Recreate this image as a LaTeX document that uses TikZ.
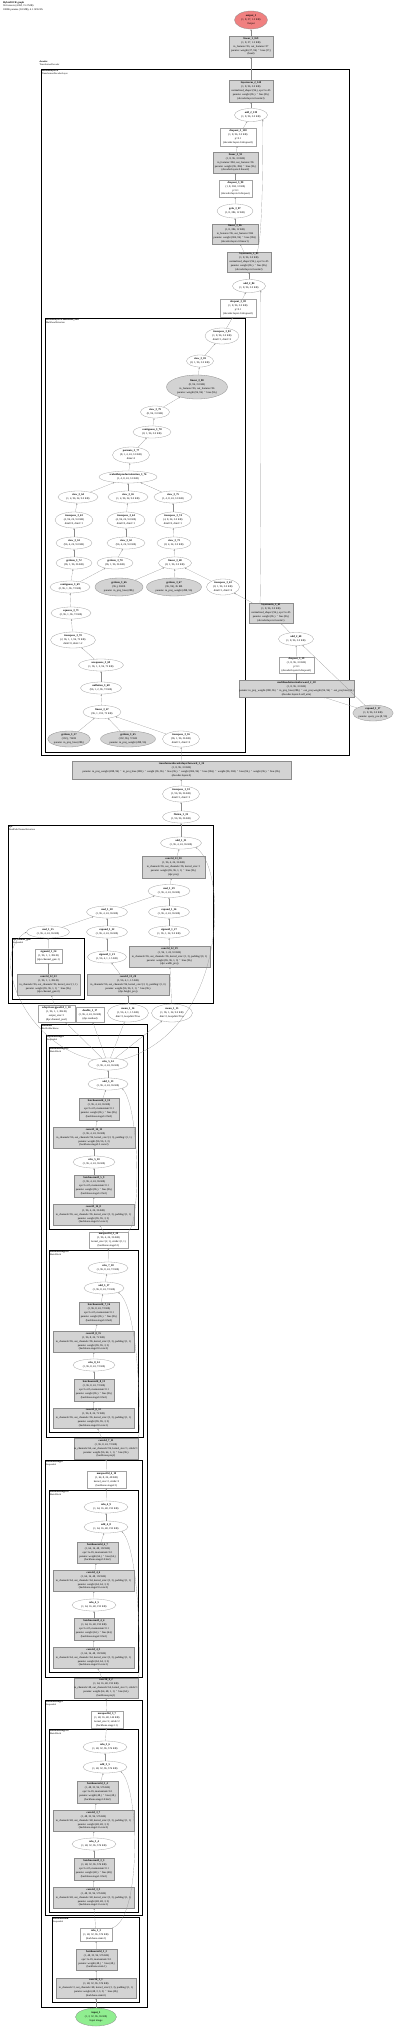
\documentclass[tikz,border=0pt]{standalone}
\usepackage{fontspec}
\setmainfont{Liberation Serif}
\usetikzlibrary{shapes.geometric,arrows.meta}
\definecolor{gfill}{HTML}{D3D3D3}
\definecolor{gline}{HTML}{8C8C8C}
\definecolor{infill}{HTML}{90EE90}
\definecolor{outfill}{HTML}{F08080}
\tikzset{
  base/.style={font=\fontsize{2.7}{3.9}\selectfont, align=center, inner sep=0.4pt, line width=0.3pt},
  gbox/.style={base, rectangle, draw=gline, fill=gfill},
  wbox/.style={base, rectangle, draw=gline!80, fill=white},
  gell/.style={base, ellipse, draw=gline, fill=gfill, inner sep=0pt},
  well/.style={base, ellipse, draw=gline!80, fill=white, inner sep=0pt},
  inell/.style={base, ellipse, draw=gline, fill=infill, inner sep=0pt},
  outell/.style={base, ellipse, draw=gline, fill=outfill, inner sep=0pt},
  edge/.style={-{Stealth[length=1.6pt,width=1.3pt]}, line width=0.16pt, draw=black!45},
  clus/.style={draw=black, line width=0.6pt},
  clab/.style={font=\fontsize{2.4}{2.9}\selectfont, align=left, anchor=north west, inner sep=0.8pt}
}
\newcommand\BX[7][gbox]{\node[#1,minimum width={#5-#3},minimum height={#6-#4}] (#2) at ({(#3+#5)/2},{(#4+#6)/2}) {#7};}
\newcommand\EL[7][well]{\node[#1,minimum width=#5,minimum height=#6] (#2) at (#3,#4) {#7};}
\newcommand\CL[7]{\draw[clus,line width=#5] (#1,#2) rectangle (#3,#4); \node[clab] at (#1,#2) {\textbf{#6}\\#7};}
\begin{document}
\begin{tikzpicture}[x=1pt,y=-1pt]
\useasboundingbox (0,0) rectangle (400,2028);
\node[clab,font=\fontsize{2.6}{3.1}\selectfont] at (2,1) {\textbf{HybridOCR graph}\\361 tensors (4.0M, 15.2 MB)\\1000K params (3.8 MB), 4.1 GFLOPs};

% ---------------- clusters ----------------
\draw[clus,line width=0.5pt,double,double distance=0.9pt] (37.5,58.5) rectangle (352.5,759.5);
\node[clab] at (38.5,59.5) {\textbf{decoder}\\TransformerDecoder};
\CL{41}{69}{349}{755}{0.7pt}{decoder.layers.0}{TransformerDecoderLayer}
\CL{45}{318}{245}{752}{0.5pt}{decoder.layers.0.multihead\_attn}{MultiheadAttention}
\CL{8}{825}{213}{1003}{0.7pt}{dpc}{DualPathChannelAttention}
\CL{12}{938}{84}{999}{0.6pt}{dpc.channel\_gate}{Sequential}
\CL{41}{1024}{147}{2007}{0.7pt}{backbone}{ResNetBackbone}
\CL{46}{1035}{143}{1437}{0.6pt}{backbone.stage3}{Sequential}
\CL{49}{1047}{138}{1229}{0.6pt}{backbone.stage3.2}{BasicBlock}
\CL{49}{1250}{138}{1432}{0.6pt}{backbone.stage3.0}{BasicBlock}
\CL{45}{1460}{142}{1677}{0.6pt}{backbone.stage2}{Sequential}
\CL{49}{1490}{138}{1672}{0.6pt}{backbone.stage2.0}{BasicBlock}
\CL{45}{1700}{142}{1915}{0.6pt}{backbone.stage1}{Sequential}
\CL{49}{1729}{138}{1912}{0.6pt}{backbone.stage1.0}{BasicBlock}
\CL{52}{1917}{139}{2002}{0.6pt}{backbone.stem}{Sequential}

% ---------------- top ----------------
\EL[outell]{out}{251}{20}{33}{18}{\textbf{output\_1}\\(1, 8, 37, 1.2 KB)\\Output}
\BX{lin1}{229}{36}{273}{57}{\textbf{linear\_1\_169}\\(1, 8, 37, 1.2 KB)\\in\_features=96, out\_features=37\\params: weight (37, 96) $\cdot$ bias (37,)\\(head)}
\BX{ln2}{229}{80}{273}{102}{\textbf{layernorm\_2\_140}\\(1, 8, 96, 3.0 KB)\\normalized\_shape=(96,), eps=1e-05\\params: weight (96,) $\cdot$ bias (96,)\\(decoder.layers.0.norm3)}
\EL{add2}{251}{115}{33}{13}{\textbf{add\_2\_139}\\(1, 8, 96, 3.0 KB)}
\BX[wbox]{do1}{220}{128}{256}{146}{\textbf{dropout\_3\_138}\\(1, 8, 96, 3.0 KB)\\p=0.1\\(decoder.layers.0.dropout3)}
\BX{lin2}{213}{152}{258}{173}{\textbf{linear\_3\_91}\\(1, 8, 96, 3.0 KB)\\in\_features=384, out\_features=96\\params: weight (96, 384) $\cdot$ bias (96,)\\(decoder.layers.0.linear2)}
\BX[wbox]{do2}{219}{180}{252}{197}{\textbf{dropout\_3\_90}\\(1, 8, 384, 12 KB)\\p=0.1\\(decoder.layers.0.dropout)}
\EL{gelu}{235}{211}{36}{14}{\textbf{gelu\_3\_87}\\(1, 8, 384, 12 KB)}
\BX{lin3}{212}{224}{258}{244}{\textbf{linear\_3\_86}\\(1, 8, 384, 12 KB)\\in\_features=96, out\_features=384\\params: weight (384, 96) $\cdot$ bias (384,)\\(decoder.layers.0.linear1)}
\BX{ln3}{227}{252}{271}{272}{\textbf{layernorm\_2\_85}\\(1, 8, 96, 3.0 KB)\\normalized\_shape=(96,), eps=1e-05\\params: weight (96,) $\cdot$ bias (96,)\\(decoder.layers.0.norm2)}
\EL{addb}{249}{286}{33}{13}{\textbf{add\_2\_84}\\(1, 8, 96, 3.0 KB)}
\BX[wbox]{do3}{220}{299}{256}{317}{\textbf{dropout\_3\_83}\\(1, 8, 96, 3.0 KB)\\p=0.1\\(decoder.layers.0.dropout2)}

% ---------------- multihead attention ----------------
\EL{tr1}{222}{336}{34}{16}{\textbf{transpose\_3\_82}\\(1, 8, 96, 3.0 KB)\\dim0=1, dim1=0}
\EL{vw1}{200}{361}{24}{12}{\textbf{view\_3\_81}\\(8, 1, 96, 3.0 KB)}
\EL[gell]{lina}{197}{387}{61}{24}{\textbf{linear\_3\_80}\\(8, 96, 3.0 KB)\\in\_features=96, out\_features=96\\params: weight (96, 96) $\cdot$ bias (96,)}
\EL{vw2}{155}{412}{29}{12}{\textbf{view\_3\_79}\\(8, 96, 3.0 KB)}
\EL{cont1}{152}{432}{38}{12}{\textbf{contiguous\_3\_78}\\(8, 1, 96, 3.0 KB)}
\EL{perm1}{131}{455}{37}{16}{\textbf{permute\_3\_77}\\(8, 1, 4, 24, 3.0 KB)\\dims=4}
\EL{sdpa}{128}{477}{58}{12}{\textbf{scaleddotproductattention\_3\_76}\\(1, 4, 8, 24, 3.0 KB)}
\EL{va}{78}{497}{40}{12}{\textbf{view\_3\_64}\\(1, 4, 96, 24, 9.0 KB)}
\EL{vb}{128}{497}{40}{12}{\textbf{view\_3\_65}\\(1, 4, 96, 24, 9.0 KB)}
\EL{vc}{173}{497}{38}{12}{\textbf{view\_3\_75}\\(1, 4, 8, 24, 3.0 KB)}
\EL{ta}{74}{520}{38}{16}{\textbf{transpose\_3\_63}\\(4, 96, 24, 9.0 KB)\\dim0=0, dim1=1}
\EL{tb}{126}{520}{38}{16}{\textbf{transpose\_3\_64}\\(4, 96, 24, 9.0 KB)\\dim0=0, dim1=1}
\EL{tc}{173}{520}{36}{16}{\textbf{transpose\_3\_74}\\(4, 8, 24, 3.0 KB)\\dim0=0, dim1=1}
\EL{vd}{74}{543}{36}{12}{\textbf{view\_3\_61}\\(96, 4, 24, 9.0 KB)}
\EL{ve}{126}{543}{38}{12}{\textbf{view\_3\_62}\\(96, 4, 24, 9.0 KB)}
\EL{vf}{174}{543}{34}{12}{\textbf{view\_3\_73}\\(8, 4, 24, 3.0 KB)}
\EL{pa}{74}{563}{36}{12}{\textbf{getitem\_3\_72}\\(96, 1, 96, 36 KB)}
\EL{pb}{115}{563}{36}{12}{\textbf{getitem\_3\_70}\\(96, 1, 96, 36 KB)}
\EL{lb}{175}{563}{33}{12}{\textbf{linear\_3\_68}\\(8, 1, 96, 3.0 KB)}
\EL{cont2}{70}{587}{40}{12}{\textbf{contiguous\_3\_69}\\(2, 96, 1, 96, 72 KB)}
\EL[gell]{sp1}{119}{587}{48}{18}{\textbf{getitem\_3\_66}\\(96,), 384 B\\params: in\_proj\_bias (288,)}
\EL[gell]{sp2}{174}{587}{55}{18}{\textbf{getitem\_3\_67}\\(96, 96), 36 KB\\params: in\_proj\_weight (288, 96)}
\EL{tr2}{223}{587}{33}{16}{\textbf{transpose\_3\_62}\\(8, 1, 96, 3.0 KB)\\dim0=1, dim1=0}
\BX{ln4}{249}{603}{293}{623}{\textbf{layernorm\_2\_61}\\(1, 8, 96, 3.0 KB)\\normalized\_shape=(96,), eps=1e-05\\params: weight (96,) $\cdot$ bias (96,)\\(decoder.layers.0.norm1)}
\EL{addc}{296}{639}{35}{13}{\textbf{add\_2\_60}\\(1, 8, 96, 3.0 KB)}
\BX[wbox]{do4}{279}{657}{314}{673}{\textbf{dropout\_3\_59}\\(1, 8, 96, 3.0 KB)\\p=0.1\\(decoder.layers.0.dropout1)}
\EL{unf1}{71}{613}{40}{12}{\textbf{squeeze\_3\_71}\\(2, 96, 1, 96, 72 KB)}
\EL{tr3}{73}{640}{45}{16}{\textbf{transpose\_3\_70}\\(2, 96, 1, 1, 96, 72 KB)\\dim0=0, dim1=-2}
\EL{tr4}{101}{665}{45}{12}{\textbf{unsqueeze\_3\_69}\\(1, 96, 1, 2, 96, 72 KB)}
\EL{unf2}{101}{688}{41}{12}{\textbf{unflatten\_3\_68}\\(96, 1, 2, 96, 72 KB)}
\EL{lin4}{102}{712}{38}{13}{\textbf{linear\_3\_67}\\(96, 1, 192, 72 KB)}
\EL[gell]{ga}{69}{739}{40}{16}{\textbf{getitem\_3\_57}\\(192,), 768 B\\params: in\_proj\_bias (288,)}
\EL[gell]{gb}{128}{739}{55}{16}{\textbf{getitem\_3\_65}\\(192, 96), 72 KB\\params: in\_proj\_weight (288, 96)}
\EL{tr5}{181}{739}{37}{16}{\textbf{transpose\_3\_56}\\(96, 1, 96, 36 KB)\\dim0=1, dim1=0}
\BX{mha}{248}{680}{345}{697}{\textbf{multiheadattentionforward\_2\_58}\\(1, 8, 96, 3.0 KB)\\params: in\_proj\_weight (288, 96) $\cdot$ in\_proj\_bias (288,) $\cdot$ out\_proj.weight (96, 96) $\cdot$ out\_proj.bias (96,)\\(decoder.layers.0.self\_attn)}
\EL[gell]{exp}{373}{713}{35}{16}{\textbf{expand\_1\_17}\\(1, 8, 96, 3.0 KB)\\params: query\_pos (8, 96)}
\BX{tfb}{72}{761}{291}{779}{\textbf{transformerdecoderlayerforward\_1\_34}\\(1, 8, 96, 3.0 KB)\\params: in\_proj\_weight (288, 96) $\cdot$ in\_proj\_bias (288,) $\cdot$ weight (96, 96) $\cdot$ bias (96,) $\cdot$ weight (384, 96) $\cdot$ bias (384,) $\cdot$ weight (96, 384) $\cdot$ bias (96,) $\cdot$ weight (96,) $\cdot$ bias (96,)\\(decoder.layers.0)}
\EL{tr6}{181}{794}{37}{16}{\textbf{transpose\_1\_33}\\(1, 96, 96, 36 KB)\\dim0=1, dim1=2}
\EL{flat}{181}{817}{37}{12}{\textbf{flatten\_1\_32}\\(1, 96, 96, 36 KB)}

% ---------------- dpc ----------------
\EL{add3}{181}{843}{41}{12}{\textbf{add\_1\_31}\\(1, 96, 4, 24, 36 KB)}
\BX{cv1}{142}{856}{205}{878}{\textbf{conv2d\_13\_30}\\(1, 96, 4, 24, 36 KB)\\in\_channels=96, out\_channels=96, kernel\_size=1\\params: weight (96, 96, 1, 1) $\cdot$ bias (96,)\\(dpc.proj)}
\EL{mul1}{169}{891}{42}{13}{\textbf{mul\_1\_29}\\(1, 96, 4, 24, 36 KB)}
\EL{mul2}{107}{912}{41}{12}{\textbf{mul\_1\_28}\\(1, 96, 4, 24, 36 KB)}
\EL{ex2}{169}{912}{41}{12}{\textbf{expand\_1\_26}\\(1, 96, 4, 24, 36 KB)}
\EL{mul3}{48}{932}{43}{12}{\textbf{mul\_1\_25}\\(1, 96, 4, 24, 36 KB)}
\EL{ex3}{107}{932}{41}{12}{\textbf{expand\_1\_22}\\(1, 96, 4, 24, 36 KB)}
\EL{sig1}{169}{932}{41}{12}{\textbf{sigmoid\_1\_27}\\(1, 96, 1, 24, 9.0 KB)}
\BX[wbox]{sig2}{35}{949}{62}{963}{\textbf{sigmoid\_1\_24}\\(1, 96, 1, 1, 384 B)\\(dpc.channel\_gate.1)}
\BX{cv2}{17}{974}{80}{995}{\textbf{conv2d\_12\_23}\\(1, 96, 1, 1, 384 B)\\in\_channels=96, out\_channels=96, kernel\_size=(1, 1)\\params: weight (96, 96, 1, 1) $\cdot$ bias (96,)\\(dpc.channel\_gate.0)}
\EL{sig3}{107}{957}{39}{12}{\textbf{sigmoid\_1\_21}\\(1, 96, 4, 1, 1.5 KB)}
\BX{cv3}{87}{974}{169}{995}{\textbf{conv2d\_13\_20}\\(1, 96, 4, 1, 1.5 KB)\\in\_channels=96, out\_channels=96, kernel\_size=(3, 1), padding=(1, 0)\\params: weight (96, 96, 3, 1) $\cdot$ bias (96,)\\(dpc.height\_proj)}
\BX{cv4}{129}{946}{210}{967}{\textbf{conv2d\_12\_19}\\(1, 96, 1, 24, 9.0 KB)\\in\_channels=96, out\_channels=96, kernel\_size=(1, 3), padding=(0, 1)\\params: weight (96, 96, 1, 3) $\cdot$ bias (96,)\\(dpc.width\_proj)}
\BX[wbox]{aap}{38}{1005}{75}{1022}{\textbf{adaptiveavgpool2d\_1\_18}\\(1, 96, 1, 1, 384 B)\\output\_size=1\\(dpc.channel\_pool)}
\BX[wbox]{dbl}{76}{1007}{104}{1022}{\textbf{double\_1\_17}\\(1, 96, 4, 24, 36 KB)\\(dpc.residual)}
\EL{mean1}{128}{1013}{41}{18}{\textbf{mean\_1\_16}\\(1, 96, 4, 1, 1.5 KB)\\dim=3, keepdim=True}
\EL{mean2}{172}{1013}{41}{18}{\textbf{mean\_1\_15}\\(1, 96, 1, 24, 9.0 KB)\\dim=2, keepdim=True}

% ---------------- backbone ----------------
\EL{relu1}{108}{1064}{40}{12}{\textbf{relu\_5\_14}\\(1, 96, 4, 24, 36 KB)}
\EL{add4}{108}{1084}{40}{12}{\textbf{add\_5\_13}\\(1, 96, 4, 24, 36 KB)}
\BX{bn1}{79}{1098}{119}{1120}{\textbf{batchnorm2d\_5\_12}\\(1, 96, 4, 24, 36 KB)\\eps=1e-05, momentum=0.1\\params: weight (96,) $\cdot$ bias (96,)\\(backbone.stage3.2.bn2)}
\BX{cv5}{53}{1127}{135}{1148}{\textbf{conv2d\_14\_11}\\(1, 96, 4, 24, 36 KB)\\in\_channels=96, out\_channels=96, kernel\_size=(3, 3), padding=(1, 1)\\params: weight (96, 96, 3, 3)\\(backbone.stage3.2.conv2)}
\EL{relu2}{94}{1162}{42}{12}{\textbf{relu\_5\_10}\\(1, 96, 4, 24, 36 KB)}
\BX{bn2}{74}{1175}{114}{1197}{\textbf{batchnorm2d\_5\_9}\\(1, 96, 4, 24, 36 KB)\\eps=1e-05, momentum=0.1\\params: weight (96,) $\cdot$ bias (96,)\\(backbone.stage3.2.bn1)}
\BX{cv6}{53}{1204}{134}{1225}{\textbf{conv2d\_14\_8}\\(1, 96, 4, 24, 36 KB)\\in\_channels=96, out\_channels=96, kernel\_size=(3, 3), padding=(1, 1)\\params: weight (96, 96, 3, 3)\\(backbone.stage3.2.conv1)}
\BX[wbox]{mp1}{89}{1232}{128}{1248}{\textbf{maxpool2d\_3\_20}\\(1, 96, 4, 24, 36 KB)\\kernel\_size=(2, 1), stride=(2, 1)\\(backbone.stage3.1)}
\EL{relu3}{108}{1268}{40}{12}{\textbf{relu\_7\_18}\\(1, 96, 8, 24, 72 KB)}
\EL{add5}{104}{1288}{40}{12}{\textbf{add\_5\_17}\\(1, 96, 8, 24, 72 KB)}
\BX{bn3}{79}{1302}{119}{1324}{\textbf{batchnorm2d\_7\_16}\\(1, 96, 8, 24, 72 KB)\\eps=1e-05, momentum=0.1\\params: weight (96,) $\cdot$ bias (96,)\\(backbone.stage3.0.bn2)}
\BX{cv7}{53}{1331}{134}{1352}{\textbf{conv2d\_8\_15}\\(1, 96, 8, 24, 72 KB)\\in\_channels=96, out\_channels=96, kernel\_size=(3, 3), padding=(1, 1)\\params: weight (96, 96, 3, 3)\\(backbone.stage3.0.conv2)}
\EL{relu4}{94}{1365}{42}{12}{\textbf{relu\_8\_14}\\(1, 96, 8, 24, 72 KB)}
\BX{bn4}{74}{1379}{114}{1401}{\textbf{batchnorm2d\_8\_13}\\(1, 96, 8, 24, 72 KB)\\eps=1e-05, momentum=0.1\\params: weight (96,) $\cdot$ bias (96,)\\(backbone.stage3.0.bn1)}
\BX{cv8}{53}{1408}{134}{1428}{\textbf{conv2d\_8\_12}\\(1, 96, 8, 24, 72 KB)\\in\_channels=96, out\_channels=96, kernel\_size=(3, 3), padding=(1, 1)\\params: weight (96, 96, 3, 3)\\(backbone.stage3.0.conv1)}
\BX{cv9}{75}{1438}{137}{1459}{\textbf{conv2d\_7\_11}\\(1, 96, 8, 24, 72 KB)\\in\_channels=64, out\_channels=96, kernel\_size=1, stride=1\\params: weight (96, 64, 1, 1) $\cdot$ bias (96,)\\(backbone.proj2)}
\BX[wbox]{mp2}{87}{1471}{126}{1488}{\textbf{maxpool2d\_4\_10}\\(1, 64, 8, 24, 48 KB)\\kernel\_size=2, stride=2\\(backbone.stage2.1)}
\EL{relu5}{106}{1507}{44}{12}{\textbf{relu\_4\_9}\\(1, 64, 16, 48, 192 KB)}
\EL{add6}{106}{1527}{44}{12}{\textbf{add\_4\_8}\\(1, 64, 16, 48, 192 KB)}
\BX{bn5}{77}{1542}{118}{1563}{\textbf{batchnorm2d\_4\_7}\\(1, 64, 16, 48, 192 KB)\\eps=1e-05, momentum=0.1\\params: weight (64,) $\cdot$ bias (64,)\\(backbone.stage2.0.bn2)}
\BX{cv10}{53}{1570}{134}{1591}{\textbf{conv2d\_4\_6}\\(1, 64, 16, 48, 192 KB)\\in\_channels=64, out\_channels=64, kernel\_size=(3, 3), padding=(1, 1)\\params: weight (64, 64, 3, 3)\\(backbone.stage2.0.conv2)}
\EL{relu6}{94}{1605}{44}{12}{\textbf{relu\_4\_5}\\(1, 64, 16, 48, 192 KB)}
\BX{bn6}{74}{1618}{114}{1640}{\textbf{batchnorm2d\_4\_4}\\(1, 64, 16, 48, 192 KB)\\eps=1e-05, momentum=0.1\\params: weight (64,) $\cdot$ bias (64,)\\(backbone.stage2.0.bn1)}
\BX{cv11}{53}{1647}{134}{1668}{\textbf{conv2d\_4\_3}\\(1, 64, 16, 48, 192 KB)\\in\_channels=64, out\_channels=64, kernel\_size=(3, 3), padding=(1, 1)\\params: weight (64, 64, 3, 3)\\(backbone.stage2.0.conv1)}
\BX{cv12}{75}{1678}{137}{1698}{\textbf{conv2d\_4\_2}\\(1, 64, 16, 48, 192 KB)\\in\_channels=48, out\_channels=64, kernel\_size=1, stride=1\\params: weight (64, 48, 1, 1) $\cdot$ bias (64,)\\(backbone.proj1)}
\BX[wbox]{mp3}{91}{1711}{123}{1728}{\textbf{maxpool2d\_3\_7}\\(1, 48, 16, 48, 144 KB)\\kernel\_size=2, stride=2\\(backbone.stage1.1)}
\EL{relu7}{105}{1747}{44}{12}{\textbf{relu\_3\_6}\\(1, 48, 32, 96, 576 KB)}
\EL{add7}{105}{1767}{44}{12}{\textbf{add\_3\_5}\\(1, 48, 32, 96, 576 KB)}
\BX{bn7}{77}{1781}{118}{1803}{\textbf{batchnorm2d\_3\_4}\\(1, 48, 32, 96, 576 KB)\\eps=1e-05, momentum=0.1\\params: weight (48,) $\cdot$ bias (48,)\\(backbone.stage1.0.bn2)}
\BX{cv13}{53}{1810}{134}{1831}{\textbf{conv2d\_3\_7}\\(1, 48, 32, 96, 576 KB)\\in\_channels=48, out\_channels=48, kernel\_size=(3, 3), padding=(1, 1)\\params: weight (48, 48, 3, 3)\\(backbone.stage1.0.conv2)}
\EL{relu8}{94}{1844}{44}{12}{\textbf{relu\_3\_4}\\(1, 48, 32, 96, 576 KB)}
\BX{bn8}{74}{1858}{114}{1880}{\textbf{batchnorm2d\_3\_3}\\(1, 48, 32, 96, 576 KB)\\eps=1e-05, momentum=0.1\\params: weight (48,) $\cdot$ bias (48,)\\(backbone.stage1.0.bn1)}
\BX{cv14}{53}{1887}{134}{1908}{\textbf{conv2d\_3\_3}\\(1, 48, 32, 96, 576 KB)\\in\_channels=48, out\_channels=48, kernel\_size=(3, 3), padding=(1, 1)\\params: weight (48, 48, 3, 3)\\(backbone.stage1.0.conv1)}
\BX[wbox]{relu9}{80}{1928}{112}{1941}{\textbf{relu\_1\_3}\\(1, 48, 32, 96, 576 KB)\\(backbone.stem.2)}
\BX{bn9}{76}{1949}{117}{1970}{\textbf{batchnorm2d\_1\_2}\\(1, 48, 32, 96, 576 KB)\\eps=1e-05, momentum=0.1\\params: weight (48,) $\cdot$ bias (48,)\\(backbone.stem.1)}
\BX{cv15}{56}{1978}{136}{1998}{\textbf{conv2d\_1\_1}\\(1, 48, 32, 96, 576 KB)\\in\_channels=3, out\_channels=48, kernel\_size=(3, 3), padding=(1, 1)\\params: weight (48, 3, 3, 3) $\cdot$ bias (48,)\\(backbone.stem.0)}
\EL[inell]{in}{96}{2017}{41}{18}{\textbf{input\_1}\\(1, 3, 32, 96, 36 KB)\\Input image}

% ---------------- edges ----------------
\foreach \a/\b in {lin1/out, ln2/lin1, add2/ln2, do1/add2, lin2/do1, do2/lin2, gelu/do2, lin3/gelu, ln3/lin3, addb/ln3, do3/addb,
  tr1/do3, vw1/tr1, lina/vw1, vw2/lina, cont1/vw2, perm1/cont1, sdpa/perm1, va/sdpa, vb/sdpa, vc/sdpa,
  ta/va, tb/vb, tc/vc, vd/ta, ve/tb, vf/tc, pa/vd, pb/ve, lb/vf, cont2/pa, cont2/pb, sp1/lb, sp2/lb, tr2/lb, ln4/tr2,
  unf1/cont2, tr3/unf1, tr4/tr3, unf2/tr4, lin4/unf2, ga/lin4, gb/lin4, tr5/lin4, tfb/tr5,
  addc/ln4, do4/addc, mha/do4, exp/addc, exp/mha, tr6/tfb, flat/tr6, add3/flat,
  cv1/add3, mul1/cv1, mul2/mul1, ex2/mul1, mul3/mul2, ex3/mul2, sig1/ex2, sig2/mul3, cv2/sig2, sig3/ex3, cv3/sig3, cv4/sig1,
  aap/cv2, mean1/cv3, mean2/cv4, relu1/aap, relu1/dbl, relu1/mean1, relu1/mean2,
  add4/relu1, bn1/add4, cv5/bn1, relu2/cv5, bn2/relu2, cv6/bn2, mp1/cv6, relu3/mp1, add5/relu3, bn3/add5, cv7/bn3, relu4/cv7, bn4/relu4, cv8/bn4, cv9/cv8,
  mp2/cv9, relu5/mp2, add6/relu5, bn5/add6, cv10/bn5, relu6/cv10, bn6/relu6, cv11/bn6, cv12/cv11,
  mp3/cv12, relu7/mp3, add7/relu7, bn7/add7, cv13/bn7, relu8/cv13, bn8/relu8, cv14/bn8, relu9/cv14, bn9/relu9, cv15/bn9, in/cv15}
  {\draw[edge] (\a) -- (\b);}
% residual curves
\draw[edge] ([xshift=8]ln3.north) .. controls (263,240) and (263,140) .. (add2.south east);
\draw[edge] ([xshift=-11]ln4.north) .. controls (261,580) and (261,320) .. (addb.south east);
\draw[edge] (mp1.north east) .. controls (141,1222) and (140,1110) .. (add4.south east);
\draw[edge] (cv9.north east) .. controls (141,1430) and (140,1310) .. (add5.south east);
\draw[edge] (cv12.north east) .. controls (141,1670) and (140,1550) .. (add6.south east);
\draw[edge] (relu9.north east) .. controls (141,1920) and (140,1790) .. (add7.south east);
\draw[edge] (relu1.north west) .. controls (25,1045) and (-12,955) .. (mul3.west);
\draw[edge] (relu1.north east) .. controls (228,1030) and (228,870) .. (add3.south east);
\end{tikzpicture}
\end{document}
